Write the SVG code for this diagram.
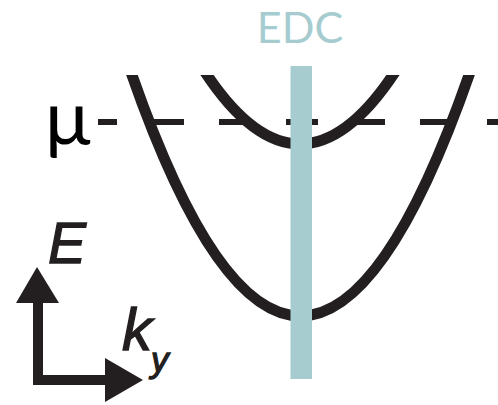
<svg xmlns="http://www.w3.org/2000/svg" width="498" height="405" viewBox="0 0 498 405">
<style>
.band{fill:none;stroke:#231f20;stroke-width:11}
.axis{fill:none;stroke:#231f20;stroke-width:10;stroke-linejoin:miter}
.lbl{font-family:"Liberation Sans",Arial,sans-serif;font-style:italic;fill:#231f20;stroke:#231f20;stroke-width:1.3}
</style>
<defs>
<clipPath id="top"><rect x="0" y="75" width="498" height="330"/></clipPath>
</defs>
<rect width="498" height="405" fill="#fff"/>
<g id="mu-line">
<line x1="98" y1="122" x2="498" y2="122" stroke="#231f20" stroke-width="6" stroke-dasharray="32 35" stroke-dashoffset="13"/>
<text x="45" y="145" font-family="Lato,'Open Sans',sans-serif" font-size="76" fill="#000">μ</text>
</g>
<g id="bands" clip-path="url(#top)">
<path class="band" d="M126.8,60 Q300.5,572 474.2,60"/>
<path class="band" d="M197.4,60 Q300,228 402.6,60"/>
</g>
<g id="edc">
<rect x="290.5" y="66" width="21.5" height="313" fill="#a6ccd0"/>
<text x="300" y="43" text-anchor="middle" font-family="Lato,'Open Sans',sans-serif" font-size="43" fill="#a6ccd0">EDC</text>
</g>
<g id="axes">
<path class="axis" d="M38,300 V380 H106"/>
<polygon points="37,267 16,303 59,303" fill="#231f20"/>
<polygon points="143,380 105,358 105,402" fill="#231f20"/>
<text class="lbl" x="48" y="263" font-size="57">E</text>
<text class="lbl" x="122" y="350" font-size="60">k<tspan font-size="35" dx="-1" dy="22">y</tspan></text>
</g>
</svg>
